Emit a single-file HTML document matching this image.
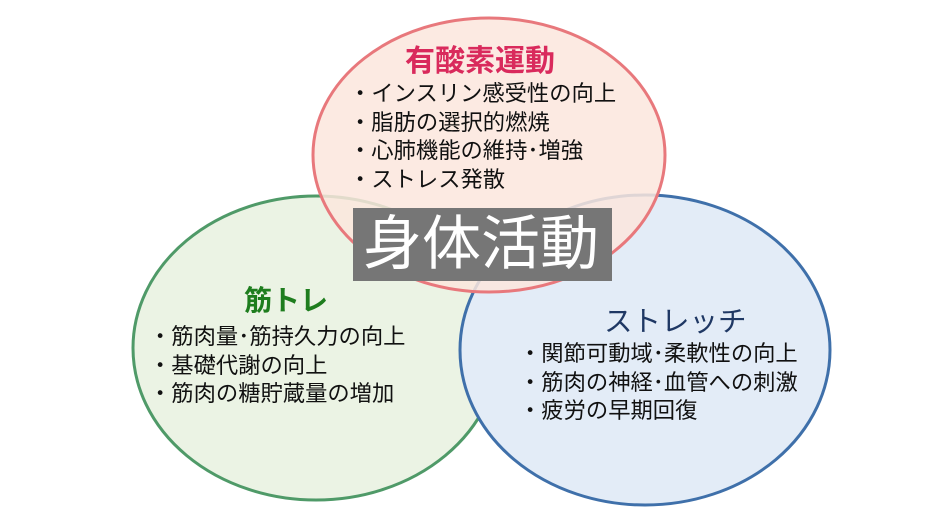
<!DOCTYPE html>
<html><head><meta charset="utf-8"><style>
body{margin:0;background:#fff;width:934px;height:526px;overflow:hidden;font-family:"Liberation Sans","Noto Sans CJK JP",sans-serif}
svg{position:absolute;left:0;top:0}
.t{position:absolute;white-space:nowrap;font-size:22.3px;line-height:28.5px;color:#111}
.h{position:absolute;white-space:nowrap;font-weight:bold;line-height:1}
</style></head><body>
<svg width="934" height="526">
<ellipse cx="316" cy="348" rx="183" ry="152" fill="#ebf3e4" stroke="#4f9a68" stroke-width="3"/>
<ellipse cx="645" cy="350" rx="185" ry="155" fill="#e3ecf7" stroke="#3f70aa" stroke-width="3"/>
<ellipse cx="489" cy="155" rx="176" ry="137" fill="#fbe6dd" fill-opacity="0.85" stroke="#e8787c" stroke-width="3"/>
<rect x="353" y="208" width="259" height="73" fill="#767676"/>
</svg>
<div class="h" style="left:405px;top:47px;font-size:30px;color:#d92a5c">有酸素運動</div>
<div class="t" style="left:349px;top:80px">・インスリン感受性の向上<br>・脂肪の選択的燃焼<br>・心肺機能の維持･増強<br>・ストレス発散</div>
<div class="h" style="left:363px;top:215px;font-size:59px;color:#fff;font-weight:normal">身体活動</div>
<div class="h" style="left:244px;top:287px;font-size:28px;color:#1e7d1e">筋トレ</div>
<div class="t" style="left:149px;top:323px">・筋肉量･筋持久力の向上<br>・基礎代謝の向上<br>・筋肉の糖貯蔵量の増加</div>
<div class="h" style="left:604px;top:308px;font-size:28.5px;color:#1f3864;font-weight:normal">ストレッチ</div>
<div class="t" style="left:519px;top:340px">・関節可動域･柔軟性の向上<br>・筋肉の神経･血管への刺激<br>・疲労の早期回復</div>
</body></html>
